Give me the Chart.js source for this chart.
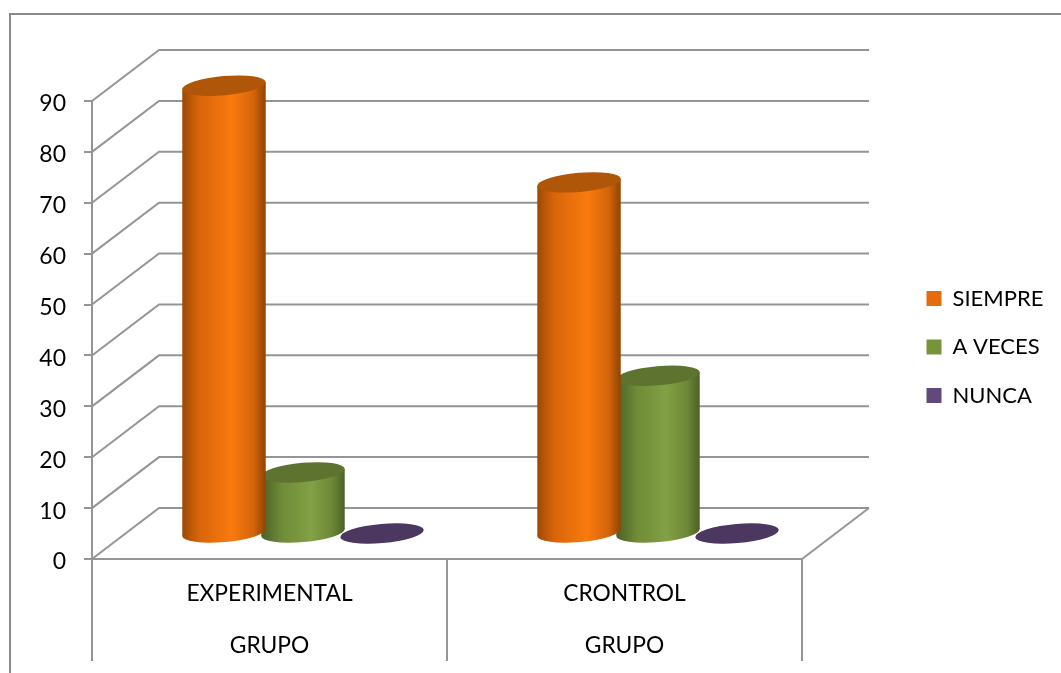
<!DOCTYPE html>
<html>
<head>
<meta charset="utf-8">
<title>Grupo experimental y control</title>
<script src="https://cdn.jsdelivr.net/npm/chart.js@4"></script>
<style>
    html, body { margin: 0; padding: 0; background: #ffffff; overflow: hidden; }
    canvas { display: block; }
</style>
</head>
<body>
<canvas id="grafico" width="1061" height="673"></canvas>
<script>
// ===========================
// Datos
// ===========================
const categorias = [["EXPERIMENTAL", "GRUPO"], ["CRONTROL", "GRUPO"]];
const nombresSeries = ["SIEMPRE", "A VECES", "NUNCA"];
const siempre = [88, 69];
const aVeces = [12, 31];
const nunca = [0, 0];
const marcasY = [0, 10, 20, 30, 40, 50, 60, 70, 80, 90];

// ===========================
// Estilos
// ===========================
const FUENTE = "Lato, Carlito, sans-serif";
const GRIS = "#959595";
const PROF_X = 67;   // desplazamiento de la pared del fondo
const PROF_Y = 51;

const colores = ["#e46c0a", "#77933c", "#604a7b"];
const tapas = ["#b05608", "#5f7331", "#4b3760"];
const degradados = [
    [[0, "#9c4a04"], [0.2, "#d8650a"], [0.6, "#f97a0e"], [0.85, "#d5650a"], [1, "#8f4503"]],
    [[0, "#4c6127"], [0.25, "#6f8c38"], [0.6, "#82a044"], [0.85, "#6c8836"], [1, "#4c6027"]],
    [[0, "#4b3760"], [1, "#4b3760"]]
];

// ===========================
// Cilindro inclinado
// ===========================
function dibujarCilindro(ctx, cx, yBase, yTope, radio, indice) {

    const giro = -5 * Math.PI / 180;
    const radioY = 9.6;
    const ancho = Math.sqrt(Math.pow(radio * Math.cos(giro), 2) + Math.pow(radioY * Math.sin(giro), 2));
    const caida = (radio * radio - radioY * radioY) * Math.sin(-giro) * Math.cos(giro) / ancho;

    if (yBase - yTope > 1) {

        const grad = ctx.createLinearGradient(cx - ancho, 0, cx + ancho, 0);
        degradados[indice].forEach(p => grad.addColorStop(p[0], p[1]));

        ctx.fillStyle = grad;
        ctx.beginPath();
        ctx.ellipse(cx, yBase, radio, radioY, giro, 0, Math.PI * 2);
        ctx.fill();

        ctx.beginPath();
        ctx.moveTo(cx - ancho, yTope + caida);
        ctx.lineTo(cx + ancho, yTope - caida);
        ctx.lineTo(cx + ancho, yBase - caida);
        ctx.lineTo(cx - ancho, yBase + caida);
        ctx.closePath();
        ctx.fill();
    }

    ctx.fillStyle = tapas[indice];
    ctx.beginPath();
    ctx.ellipse(cx, yTope, radio, radioY, giro, 0, Math.PI * 2);
    ctx.fill();
}

// ===========================
// Perspectiva: marco, paredes, piso y barras
// ===========================
const perspectiva = {
    id: "perspectiva",

    beforeLayout(chart) {
        // reserva fija para la leyenda
        const leyenda = chart.legend;
        const medir = leyenda.fit;
        leyenda.fit = function () {
            medir.call(this);
            this.width = 259;
        };
    },

    afterLayout(chart) {
        chart.legend.left = 900;
        chart.legend.right = 1061;
        chart.legend.top = 261;
    },

    beforeDraw(chart) {
        const ctx = chart.ctx;
        ctx.save();
        ctx.strokeStyle = "#8a8a8a";
        ctx.lineWidth = 2;
        ctx.beginPath();
        ctx.moveTo(10, 673);
        ctx.lineTo(10, 14);
        ctx.lineTo(1061, 14);
        ctx.stroke();
        ctx.restore();
    },

    beforeDatasetsDraw(chart) {
        const ctx = chart.ctx;
        const x = chart.scales.x;
        const y = chart.scales.y;

        ctx.save();
        ctx.strokeStyle = GRIS;
        ctx.lineWidth = 2;

        marcasY.forEach(valor => {
            const py = y.getPixelForValue(valor);
            ctx.beginPath();
            ctx.moveTo(x.left, py);
            ctx.lineTo(x.left + PROF_X, py - PROF_Y);
            ctx.lineTo(x.right + PROF_X, py - PROF_Y);
            ctx.stroke();
        });

        // borde derecho del piso
        const piso = y.getPixelForValue(0);
        ctx.beginPath();
        ctx.moveTo(x.right, piso);
        ctx.lineTo(x.right + PROF_X, piso - PROF_Y);
        ctx.stroke();

        ctx.restore();
    },

    beforeDatasetDraw(chart, args) {
        const ctx = chart.ctx;
        const meta = chart.getDatasetMeta(args.index);

        ctx.save();
        meta.data.forEach(barra => {
            dibujarCilindro(
                ctx,
                barra.x + PROF_X / 2,
                barra.base - PROF_Y / 2,
                barra.y - PROF_Y / 2,
                barra.width / 2,
                args.index
            );
        });
        ctx.restore();

        // el cilindro reemplaza a la barra normal
        return false;
    }
};

// ===========================
// Renderizar gráfico
// ===========================
const ctx = document.getElementById("grafico").getContext("2d");

new Chart(ctx, {

    type: "bar",

    data: {
        labels: categorias,

        datasets: [
            { label: nombresSeries[0], data: siempre, backgroundColor: colores[0] },
            { label: nombresSeries[1], data: aVeces, backgroundColor: colores[1] },
            { label: nombresSeries[2], data: nunca, backgroundColor: colores[2] }
        ]
    },

    options: {
        responsive: false,
        animation: false,
        categoryPercentage: 0.6676,
        barPercentage: 1.06,

        layout: {
            padding: { left: 32, top: 101, right: 0, bottom: 0 }
        },

        plugins: {
            tooltip: { enabled: false },

            legend: {
                position: "right",
                align: "start",
                labels: {
                    boxWidth: 15,
                    boxHeight: 15,
                    padding: 26.5,
                    color: "#000000",
                    font: { family: FUENTE, size: 22 }
                }
            }
        },

        scales: {

            x: {
                afterFit(escala) {
                    escala.height = 114;
                },

                border: { color: GRIS, width: 2 },

                grid: {
                    offset: true,
                    drawOnChartArea: false,
                    color: GRIS,
                    lineWidth: 2,
                    tickLength: 102
                },

                ticks: {
                    color: "#000000",
                    padding: -93,
                    autoSkip: false,
                    maxRotation: 0,
                    font: { family: FUENTE, size: 22.8, lineHeight: 2.28 }
                }
            },

            y: {
                min: 0,
                max: 90,

                afterFit(escala) {
                    escala.width = 60;
                },

                afterBuildTicks(escala) {
                    escala.ticks = marcasY.map(v => ({ value: v }));
                },

                border: { color: GRIS, width: 2 },

                grid: {
                    drawOnChartArea: false,
                    color: GRIS,
                    lineWidth: 2,
                    tickLength: 8
                },

                ticks: {
                    color: "#000000",
                    padding: 18,
                    labelOffset: 3,
                    font: { family: FUENTE, size: 23 }
                }
            }
        }
    },

    plugins: [perspectiva]
});
</script>
</body>
</html>
